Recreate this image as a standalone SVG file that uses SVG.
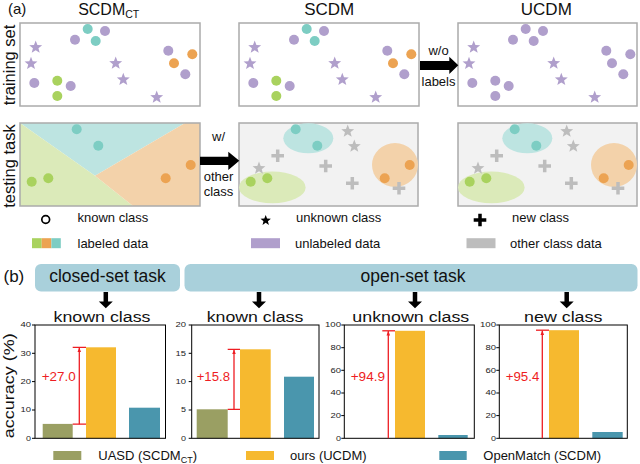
<svg xmlns="http://www.w3.org/2000/svg" xmlns:xlink="http://www.w3.org/1999/xlink" width="640" height="464" viewBox="0 0 640 464">
<style>
text{font-family:"Liberation Sans",Arial,sans-serif;fill:#111}
.box{fill:#fff;stroke:#ababab;stroke-width:1.5}
.tbox{fill:#f2f2f2;stroke:#ababab;stroke-width:1.5}
.p{fill:#b09fcc}.t{fill:#7dcdc3}.g{fill:#a9d25e}.o{fill:#eca352}.gr{fill:#bdbdbd}.k{fill:#000}
.et{fill:#bde4e1}.eg{fill:#dbeab9}.eo{fill:#f3d2aa}
.ttl{font-size:17px;text-anchor:middle}
.side{font-size:16.5px;text-anchor:middle}
.lg{font-size:13px}
.sm{font-size:13px;text-anchor:middle}
.ax{fill:none;stroke:#000;stroke-width:1}
.tk{font-size:7px;text-anchor:end;fill:#222}
.red{stroke:#ee1d23;stroke-width:1.3;fill:none}
.rt{fill:#ee1d23;font-size:12.5px}
.ct{font-size:17.5px;text-anchor:middle}
.tb{fill:#a9d0db}
.ol{fill:#9a9f63}.ye{fill:#f6b92f}.te{fill:#4a96ad}
</style>
<defs>
<path id="star" d="M0,-6.8 L1.705,-2.346 L6.467,-2.101 L2.758,0.896 L3.997,5.501 L0,2.9 L-3.997,5.501 L-2.758,0.896 L-6.467,-2.101 L-1.705,-2.346 Z"/>
<path id="plus" d="M-6.3,-1.75 h12.6 v3.5 h-12.6 Z M-1.75,-6.3 h3.5 v12.6 h-3.5 Z"/>
<marker id="rh" viewBox="0 0 10 10" refX="10" refY="5" markerWidth="4.5" markerHeight="4.5" markerUnits="userSpaceOnUse" orient="auto">
<path d="M0,1 L10,5 L0,9 Z" fill="#ee1d23"/>
</marker>
</defs>

<!-- panel (a) headings -->
<g id="headings-a">
<text x="8" y="14" style="font-size:15px">(a)</text>
<text x="108.7" y="15" style="font-size:16px;text-anchor:middle">SCDM<tspan style="font-size:10.5px" dy="3">CT</tspan></text>
<text x="329.2" y="15" class="ttl">SCDM</text>
<text x="546.3" y="15" class="ttl">UCDM</text>
<text class="side" transform="translate(14.5 65) rotate(-90)">training set</text>
<text class="side" transform="translate(14.5 166) rotate(-90)">testing task</text>
</g>

<!-- training sets -->
<g id="train-scdmct">
<rect class="box" x="20" y="23" width="180" height="83"/>
<circle class="t" cx="87.7" cy="29" r="5"/><circle class="t" cx="95.7" cy="41" r="5"/>
<circle class="p" cx="105" cy="31" r="5"/><circle class="p" cx="75" cy="39.7" r="5"/>
<use href="#star" x="35.7" y="47.3" class="p"/><use href="#star" x="31" y="63.6" class="p"/>
<circle class="p" cx="34.3" cy="83" r="5"/>
<circle class="g" cx="57.3" cy="80.7" r="5"/><circle class="g" cx="57.3" cy="96" r="5"/>
<circle class="p" cx="70.7" cy="86" r="5"/>
<use href="#star" x="115.7" y="63.3" class="p"/><use href="#star" x="123.3" y="79.6" class="p"/><use href="#star" x="156.7" y="97.3" class="p"/>
<circle class="p" cx="168.3" cy="50.7" r="5"/>
<circle class="o" cx="192.3" cy="54.3" r="5"/><circle class="o" cx="174" cy="63.3" r="5"/>
<circle class="p" cx="185.3" cy="74.3" r="5"/>
</g>
<g id="train-scdm" transform="translate(219 0)">
<rect class="box" x="20" y="23" width="180" height="83"/>
<circle class="t" cx="87.7" cy="29" r="5"/><circle class="t" cx="95.7" cy="41" r="5"/>
<circle class="p" cx="105" cy="31" r="5"/><circle class="p" cx="75" cy="39.7" r="5"/>
<use href="#star" x="35.7" y="47.3" class="p"/><use href="#star" x="31" y="63.6" class="p"/>
<circle class="p" cx="34.3" cy="83" r="5"/>
<circle class="g" cx="57.3" cy="80.7" r="5"/><circle class="g" cx="57.3" cy="96" r="5"/>
<circle class="p" cx="70.7" cy="86" r="5"/>
<use href="#star" x="115.7" y="63.3" class="p"/><use href="#star" x="123.3" y="79.6" class="p"/><use href="#star" x="156.7" y="97.3" class="p"/>
<circle class="p" cx="168.3" cy="50.7" r="5"/>
<circle class="o" cx="192.3" cy="54.3" r="5"/><circle class="o" cx="174" cy="63.3" r="5"/>
<circle class="p" cx="185.3" cy="74.3" r="5"/>
</g>
<g id="train-ucdm" transform="translate(438 0)">
<rect class="box" x="20" y="23" width="179" height="83"/>
<circle class="p" cx="87.7" cy="29" r="5"/><circle class="p" cx="95.7" cy="41" r="5"/>
<circle class="p" cx="105" cy="31" r="5"/><circle class="p" cx="75" cy="39.7" r="5"/>
<use href="#star" x="35.7" y="47.3" class="p"/><use href="#star" x="31" y="63.6" class="p"/>
<circle class="p" cx="34.3" cy="83" r="5"/>
<circle class="p" cx="57.3" cy="80.7" r="5"/><circle class="p" cx="57.3" cy="96" r="5"/>
<circle class="p" cx="70.7" cy="86" r="5"/>
<use href="#star" x="115.7" y="63.3" class="p"/><use href="#star" x="123.3" y="79.6" class="p"/><use href="#star" x="156.7" y="97.3" class="p"/>
<circle class="p" cx="168.3" cy="50.7" r="5"/>
<circle class="p" cx="192.3" cy="54.3" r="5"/><circle class="p" cx="174" cy="63.3" r="5"/>
<circle class="p" cx="185.3" cy="74.3" r="5"/>
</g>

<!-- testing tasks -->
<g id="test-scdmct">
<polygon class="et" points="20,123 185,123 95,175.7"/>
<polygon class="eg" points="20,123 95,175.7 133,206 20,206"/>
<polygon class="eo" points="185,123 200,123 200,206 133,206 95,175.7"/>
<rect x="20" y="123" width="180" height="83" fill="none" stroke="#ababab" stroke-width="1.5"/>
<circle class="t" cx="76.7" cy="129.3" r="5"/><circle class="t" cx="98.3" cy="145.7" r="5"/>
<circle class="g" cx="31.7" cy="181.7" r="5"/><circle class="g" cx="48.3" cy="178.3" r="5"/>
<circle class="o" cx="165.7" cy="178.3" r="5"/><circle class="o" cx="190.7" cy="165" r="5"/>
</g>
<g id="test-scdm">
<rect class="tbox" x="239" y="123" width="179" height="83"/>
<ellipse class="et" cx="308.3" cy="138.3" rx="25" ry="15"/>
<ellipse class="eg" cx="272.3" cy="187.4" rx="33.3" ry="15.8"/>
<ellipse class="eo" cx="395" cy="165" rx="23" ry="22"/>
<circle class="t" cx="295.7" cy="129.3" r="5"/><circle class="t" cx="317.3" cy="145.7" r="5"/>
<circle class="g" cx="250.7" cy="181.7" r="5"/><circle class="g" cx="267.3" cy="178.3" r="5"/>
<circle class="o" cx="384.7" cy="178.3" r="5"/><circle class="o" cx="409.7" cy="165" r="5"/>
<use href="#star" x="347.7" y="131.3" class="gr"/><use href="#star" x="354.3" y="146.3" class="gr"/><use href="#star" x="259" y="168.3" class="gr"/>
<use href="#plus" x="277.7" y="155.7" class="gr"/><use href="#plus" x="325.7" y="166" class="gr"/><use href="#plus" x="352.3" y="183.3" class="gr"/><use href="#plus" x="399" y="188.3" class="gr"/>
</g>
<g id="test-ucdm" transform="translate(219 0)">
<rect class="tbox" x="239" y="123" width="179" height="83"/>
<ellipse class="et" cx="308.3" cy="138.3" rx="25" ry="15"/>
<ellipse class="eg" cx="272.3" cy="187.4" rx="33.3" ry="15.8"/>
<ellipse class="eo" cx="395" cy="165" rx="23" ry="22"/>
<circle class="t" cx="295.7" cy="129.3" r="5"/><circle class="t" cx="317.3" cy="145.7" r="5"/>
<circle class="g" cx="250.7" cy="181.7" r="5"/><circle class="g" cx="267.3" cy="178.3" r="5"/>
<circle class="o" cx="384.7" cy="178.3" r="5"/><circle class="o" cx="409.7" cy="165" r="5"/>
<use href="#star" x="347.7" y="131.3" class="gr"/><use href="#star" x="354.3" y="146.3" class="gr"/><use href="#star" x="259" y="168.3" class="gr"/>
<use href="#plus" x="277.7" y="155.7" class="gr"/><use href="#plus" x="325.7" y="166" class="gr"/><use href="#plus" x="352.3" y="183.3" class="gr"/><use href="#plus" x="399" y="188.3" class="gr"/>
</g>

<!-- legend (a) -->
<g id="legend-a">
<circle cx="45.7" cy="219.5" r="3.9" fill="none" stroke="#000" stroke-width="1.7"/>
<text x="77.5" y="221.7" class="lg">known class</text>
<use href="#star" x="265.7" y="220.5" class="k" transform="translate(265.7 220.5) scale(0.8) translate(-265.7 -220.5)"/>
<text x="296" y="221.7" class="lg">unknown class</text>
<use href="#plus" x="480" y="220" class="k"/>
<text x="512" y="221.7" class="lg">new class</text>
<rect x="32" y="238.2" width="9.7" height="10" class="g"/>
<rect x="41.7" y="238.2" width="9.7" height="10" class="o"/>
<rect x="51.4" y="238.2" width="9.4" height="10" class="t"/>
<text x="77.5" y="248" class="lg">labeled data</text>
<rect x="251" y="238.2" width="29" height="10" class="p"/>
<text x="295" y="248" class="lg">unlabeled data</text>
<rect x="466.5" y="238.2" width="29" height="10" class="gr"/>
<text x="510" y="248" class="lg">other class data</text>
</g>

<!-- connectors -->
<g id="connectors">
<path d="M420,61 H449.3 V56.7 L458.3,65.3 L449.3,74 V70 H420 Z" fill="#000"/>
<text x="438.5" y="55" class="sm">w/o</text>
<text x="438.5" y="85.5" class="sm">labels</text>
<path d="M200,156.7 H228.3 V151.7 L239.3,160.8 L228.3,170 V165 H200 Z" fill="#000"/>
<text x="218.5" y="140.7" class="sm">w/</text>
<text x="218.5" y="181" class="sm">other</text>
<text x="218.5" y="196" class="sm">class</text>
<path d="M103.55,292 h4.5 v9.5 h4.75 l-7,6.8 l-7,-6.8 h4.75 Z" fill="#000"/>
<path d="M256.75,292 h4.5 v9.5 h4.75 l-7,6.8 l-7,-6.8 h4.75 Z" fill="#000"/>
<path d="M412.75,292 h4.5 v9.5 h4.75 l-7,6.8 l-7,-6.8 h4.75 Z" fill="#000"/>
<path d="M564.45,292 h4.5 v9.5 h4.75 l-7,6.8 l-7,-6.8 h4.75 Z" fill="#000"/>
</g>

<!-- panel (b) task boxes -->
<g id="task-boxes">
<text x="3.5" y="282" style="font-size:17px">(b)</text>
<rect class="tb" x="35" y="264" width="145" height="27.5" rx="6"/>
<text x="107.5" y="282" class="ct">closed-set task</text>
<rect class="tb" x="184.5" y="264" width="453" height="27.5" rx="6"/>
<text x="413" y="282" class="ct">open-set task</text>
<text transform="translate(13.5 385.8) rotate(-90)" style="font-size:14px;text-anchor:middle" textLength="105" lengthAdjust="spacingAndGlyphs">accuracy (%)</text>
</g>

<!-- chart 1 -->
<g id="chart-closed-known">
<text x="102" y="321.7" class="ttl" style="font-size:15.5px" textLength="97" lengthAdjust="spacingAndGlyphs">known class</text>
<rect class="ol" x="42.7" y="423.9" width="30" height="14.4"/>
<rect class="ye" x="86" y="347.3" width="30" height="91"/>
<rect class="te" x="129" y="407.7" width="31" height="30.6"/>
<rect class="ax" x="35" y="325" width="130.5" height="113.3"/>
<path class="ax" d="M32,438.3h3M32,410h3M32,381.6h3M32,353.3h3M32,325h3"/>
<text class="tk" x="31" y="440.5" textLength="5" lengthAdjust="spacingAndGlyphs">0</text>
<text class="tk" x="31" y="412.2" textLength="10.5" lengthAdjust="spacingAndGlyphs">10</text>
<text class="tk" x="31" y="383.8" textLength="10.5" lengthAdjust="spacingAndGlyphs">20</text>
<text class="tk" x="31" y="355.5" textLength="10.5" lengthAdjust="spacingAndGlyphs">30</text>
<text class="tk" x="31" y="327.2" textLength="10.5" lengthAdjust="spacingAndGlyphs">40</text>
<path class="red" d="M72.7,347.3H86M72.7,424.2H86"/>
<line class="red" x1="79.3" y1="424.2" x2="79.3" y2="347.6" marker-end="url(#rh)"/>
<text class="rt" x="41.7" y="381" textLength="34" lengthAdjust="spacingAndGlyphs">+27.0</text>
</g>

<!-- chart 2 -->
<g id="chart-open-known">
<text x="255" y="321.7" class="ttl" style="font-size:15.5px" textLength="96.6" lengthAdjust="spacingAndGlyphs">known class</text>
<rect class="ol" x="196.7" y="409.3" width="31" height="29"/>
<rect class="ye" x="240" y="349.3" width="30.7" height="89"/>
<rect class="te" x="284" y="376.7" width="30" height="61.6"/>
<rect class="ax" x="191.7" y="325" width="127.3" height="113.3"/>
<path class="ax" d="M188.7,438.3h3M188.7,410h3M188.7,381.6h3M188.7,353.3h3M188.7,325h3"/>
<text class="tk" x="186" y="440.5" textLength="5" lengthAdjust="spacingAndGlyphs">0</text>
<text class="tk" x="186" y="412.2" textLength="5" lengthAdjust="spacingAndGlyphs">5</text>
<text class="tk" x="186" y="383.8" textLength="10.5" lengthAdjust="spacingAndGlyphs">10</text>
<text class="tk" x="186" y="355.5" textLength="10.5" lengthAdjust="spacingAndGlyphs">15</text>
<text class="tk" x="186" y="327.2" textLength="10.5" lengthAdjust="spacingAndGlyphs">20</text>
<path class="red" d="M227.7,349.3H240M227.7,409.3H240"/>
<line class="red" x1="234" y1="409.3" x2="234" y2="349.6" marker-end="url(#rh)"/>
<text class="rt" x="196.7" y="381" textLength="33.3" lengthAdjust="spacingAndGlyphs">+15.8</text>
</g>

<!-- chart 3 -->
<g id="chart-open-unknown">
<text x="410.8" y="321.7" class="ttl" style="font-size:15.5px" textLength="117" lengthAdjust="spacingAndGlyphs">unknown class</text>
<rect class="ye" x="395" y="330.8" width="30" height="107.5"/>
<rect class="te" x="438.3" y="435" width="29.4" height="3.3"/>
<rect class="ax" x="344.3" y="325" width="130" height="113.3"/>
<path class="ax" d="M341.3,438.3h3M341.3,415.6h3M341.3,393h3M341.3,370.3h3M341.3,347.7h3M341.3,325h3"/>
<text class="tk" x="341" y="440.5" textLength="5" lengthAdjust="spacingAndGlyphs">0</text>
<text class="tk" x="341" y="417.8" textLength="10.5" lengthAdjust="spacingAndGlyphs">20</text>
<text class="tk" x="341" y="395.2" textLength="10.5" lengthAdjust="spacingAndGlyphs">40</text>
<text class="tk" x="341" y="372.5" textLength="10.5" lengthAdjust="spacingAndGlyphs">60</text>
<text class="tk" x="341" y="349.9" textLength="10.5" lengthAdjust="spacingAndGlyphs">80</text>
<text class="tk" x="341" y="327.2" textLength="16" lengthAdjust="spacingAndGlyphs">100</text>
<path class="red" d="M382.3,330.8H395"/>
<line class="red" x1="388.3" y1="438.3" x2="388.3" y2="331.1" marker-end="url(#rh)"/>
<text class="rt" x="350.7" y="381" textLength="34.3" lengthAdjust="spacingAndGlyphs">+94.9</text>
</g>

<!-- chart 4 -->
<g id="chart-open-new">
<text x="563.2" y="321.7" class="ttl" style="font-size:15.5px" textLength="78.3" lengthAdjust="spacingAndGlyphs">new class</text>
<rect class="ye" x="549" y="330.2" width="30" height="108.1"/>
<rect class="te" x="592.3" y="432" width="30.4" height="6.3"/>
<rect class="ax" x="499.3" y="325" width="128" height="113.3"/>
<path class="ax" d="M496.3,438.3h3M496.3,415.6h3M496.3,393h3M496.3,370.3h3M496.3,347.7h3M496.3,325h3"/>
<text class="tk" x="496" y="440.5" textLength="5" lengthAdjust="spacingAndGlyphs">0</text>
<text class="tk" x="496" y="417.8" textLength="10.5" lengthAdjust="spacingAndGlyphs">20</text>
<text class="tk" x="496" y="395.2" textLength="10.5" lengthAdjust="spacingAndGlyphs">40</text>
<text class="tk" x="496" y="372.5" textLength="10.5" lengthAdjust="spacingAndGlyphs">60</text>
<text class="tk" x="496" y="349.9" textLength="10.5" lengthAdjust="spacingAndGlyphs">80</text>
<text class="tk" x="496" y="327.2" textLength="16" lengthAdjust="spacingAndGlyphs">100</text>
<path class="red" d="M536,330.2H549"/>
<line class="red" x1="542.3" y1="438.3" x2="542.3" y2="330.5" marker-end="url(#rh)"/>
<text class="rt" x="505.7" y="381" textLength="33.6" lengthAdjust="spacingAndGlyphs">+95.4</text>
</g>

<!-- legend (b) -->
<g id="legend-b">
<rect class="ol" x="53.3" y="451" width="28" height="9"/>
<text x="98.3" y="460" class="lg">UASD (SCDM<tspan style="font-size:9px" dy="2.5">CT</tspan><tspan dy="-2.5">)</tspan></text>
<rect class="ye" x="246" y="451" width="28" height="9"/>
<text x="290" y="460" class="lg">ours (UCDM)</text>
<rect class="te" x="439.3" y="451" width="27.4" height="9"/>
<text x="483.3" y="460" class="lg">OpenMatch (SCDM)</text>
</g>
</svg>
